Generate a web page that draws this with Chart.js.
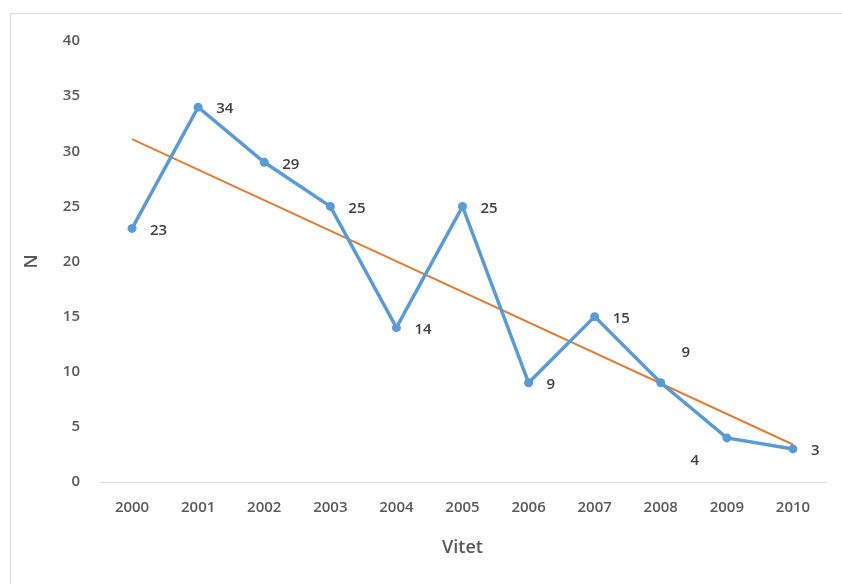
<!DOCTYPE html>
<html>
<head>
<meta charset="utf-8">
<script src="https://cdn.jsdelivr.net/npm/chart.js@4.4.1/dist/chart.umd.min.js"></script>
<style>
  html, body { margin: 0; padding: 0; background: #ffffff; }
  #wrap { position: relative; width: 842px; height: 584px; }
  #frame { position: absolute; left: 10px; top: 13px; width: 900px; height: 700px; border: 1px solid #d9d9d9; box-sizing: border-box; }
  canvas { position: absolute; left: 0; top: 0; }
</style>
</head>
<body>
<div id="wrap">
  <div id="frame"></div>
  <canvas id="c" width="842" height="584"></canvas>
</div>
<script>
// Years and yearly counts
const years = ['2000', '2001', '2002', '2003', '2004', '2005', '2006', '2007', '2008', '2009', '2010'];
const counts = [23, 34, 29, 25, 14, 25, 9, 15, 9, 4, 3];
// Linear trend end points (first and last year)
const trendYears = ['2000', '2010'];
const trendValues = [31.1, 3.4];
// Y axis tick values
const yTicks = [0, 5, 10, 15, 20, 25, 30, 35, 40];

const FONT = "'Open Sans', 'Liberation Sans', sans-serif";

// Value labels: default to the right of each point, a few are shifted
const labelShift = { 8: { dx: 25, dy: -30 }, 9: { dx: -32, dy: 23 } };

const valueLabels = {
  id: 'valueLabels',
  afterDatasetsDraw(chart) {
    const meta = chart.getDatasetMeta(0);
    const ctx = chart.ctx;
    ctx.save();
    ctx.font = "600 15px " + FONT;
    ctx.fillStyle = '#404040';
    ctx.textBaseline = 'middle';
    meta.data.forEach((pt, i) => {
      const s = labelShift[i];
      const text = String(counts[i]);
      if (s) {
        ctx.textAlign = 'center';
        ctx.fillText(text, pt.x + s.dx, pt.y + s.dy);
      } else {
        ctx.textAlign = 'left';
        ctx.fillText(text, pt.x + 18, pt.y + 2);
      }
    });
    ctx.restore();
  }
};

new Chart(document.getElementById('c'), {
  type: 'line',
  data: {
    labels: years,
    datasets: [
      {
        label: 'N',
        data: counts,
        borderColor: '#5b9bd5',
        backgroundColor: '#5b9bd5',
        borderWidth: 3.5,
        pointRadius: 4.5,
        pointHoverRadius: 4.5,
        pointBorderWidth: 0,
        tension: 0,
        order: 1
      },
      {
        label: 'Trend',
        data: trendYears.map((y, i) => ({ x: y, y: trendValues[i] })),
        borderColor: '#e57e35',
        borderWidth: 2,
        pointRadius: 0,
        tension: 0,
        order: 2
      }
    ]
  },
  options: {
    responsive: false,
    animation: false,
    events: [],
    layout: { padding: { top: 41, right: 16, bottom: 0, left: 0 } },
    plugins: {
      legend: { display: false },
      tooltip: { enabled: false }
    },
    scales: {
      x: {
        type: 'category',
        offset: true,
        grid: { display: false, drawTicks: false },
        border: { display: true, color: '#d9d9d9', width: 1 },
        ticks: { color: '#595959', font: { family: FONT, size: 15, weight: '600' }, padding: 17, maxRotation: 0 },
        title: { display: true, text: 'Vitet', color: '#595959', font: { family: FONT, size: 18, weight: '600' }, padding: { top: 0, bottom: 25 } },
        afterFit(scale) { scale.height = 102; }
      },
      y: {
        min: 0,
        max: 40,
        afterBuildTicks(scale) { scale.ticks = yTicks.map(v => ({ value: v })); },
        grid: { display: false, drawTicks: false },
        border: { display: false },
        ticks: { color: '#595959', font: { family: FONT, size: 15, weight: '600' }, padding: 19 },
        title: { display: true, text: 'N', color: '#595959', font: { family: FONT, size: 18, weight: '600' }, padding: { top: 21, bottom: 0 } },
        afterFit(scale) { scale.width = 99; }
      }
    }
  },
  plugins: [valueLabels]
});
</script>
</body>
</html>
